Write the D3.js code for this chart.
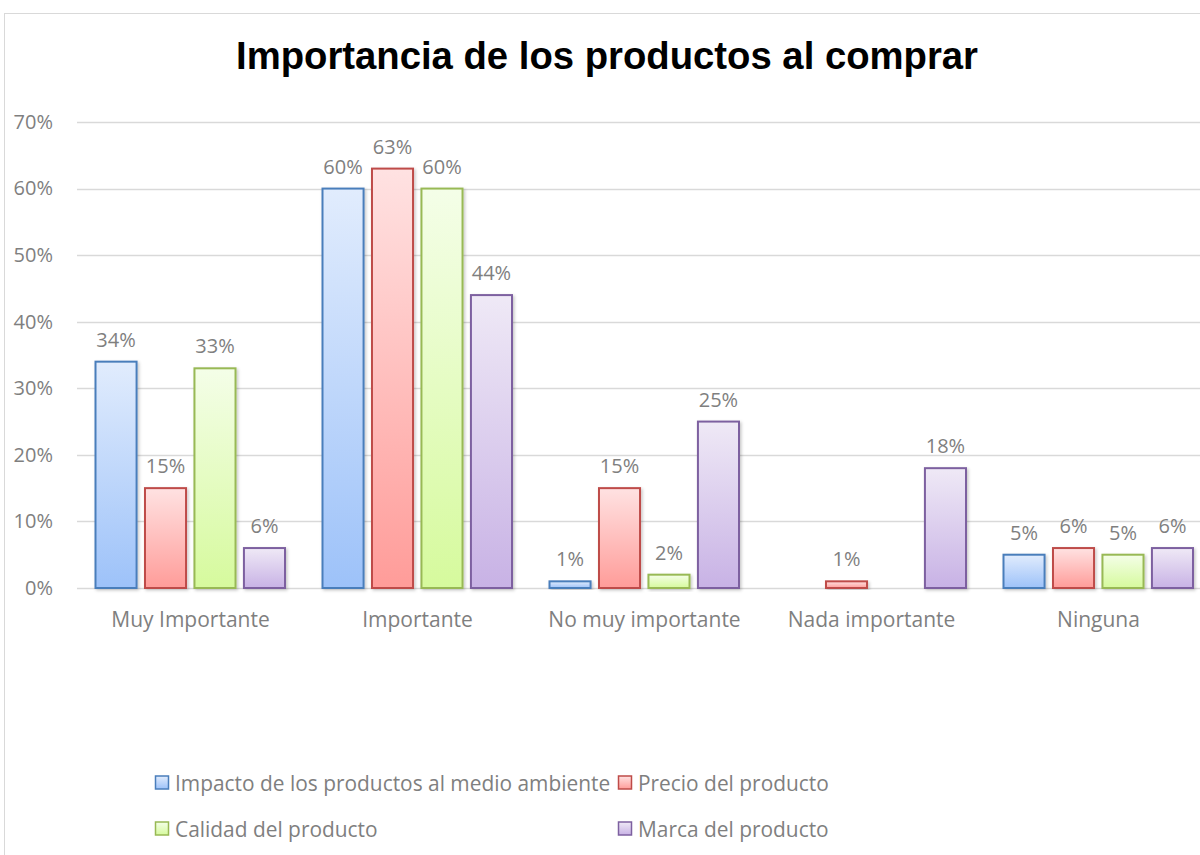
<!DOCTYPE html>
<html>
<head>
<meta charset="utf-8">
<script src="https://cdn.jsdelivr.net/npm/d3@7"></script>
<style>
  body { margin: 0; background: #fff; }
  svg text { font-family: "Open Sans", "Noto Sans", sans-serif; }
</style>
</head>
<body>
<div id="chart"></div>
<script>
// chart data
var categories = ["Muy Importante", "Importante", "No muy importante", "Nada importante", "Ninguna"];
var seriesNames = ["Impacto de los productos al medio ambiente", "Precio del producto", "Calidad del producto", "Marca del producto"];
var impacto = [34, 60, 1, 0, 5];
var precio = [15, 63, 15, 1, 6];
var calidad = [33, 60, 2, 0, 5];
var marca = [6, 44, 25, 18, 6];
var yTicks = [0, 10, 20, 30, 40, 50, 60, 70];

var seriesValues = [impacto, precio, calidad, marca];

// colours: gradient top, gradient bottom, border
var seriesColors = [
    { top: "#e1ecfd", bottom: "#9dc2f9", stroke: "#4a7ebb" },
    { top: "#ffe2e2", bottom: "#ff9c99", stroke: "#be4b48" },
    { top: "#f4fee8", bottom: "#d6fa9d", stroke: "#98b954" },
    { top: "#efe9f6", bottom: "#c8b2e5", stroke: "#7d60a0" }
];

var w = 1200, h = 855;

var svg = d3.select("#chart")
    .append("svg")
    .attr("width", w)
    .attr("height", h);

var defs = svg.append("defs");

seriesColors.forEach((c, i) => {
    var g = defs.append("linearGradient")
        .attr("id", "grad" + i)
        .attr("x1", 0).attr("y1", 0)
        .attr("x2", 0).attr("y2", 1);
    g.append("stop").attr("offset", "0%").attr("stop-color", c.top);
    g.append("stop").attr("offset", "100%").attr("stop-color", c.bottom);
});

defs.append("filter")
    .attr("id", "shadow")
    .attr("x", "-20%").attr("y", "-20%")
    .attr("width", "150%").attr("height", "150%")
    .append("feDropShadow")
    .attr("dx", 1.5).attr("dy", 1.5)
    .attr("stdDeviation", 1.5)
    .attr("flood-color", "#000")
    .attr("flood-opacity", 0.22);

// chart area border
svg.append("rect")
    .attr("x", 4.5)
    .attr("y", 13.5)
    .attr("width", w + 20)
    .attr("height", h + 20)
    .attr("fill", "none")
    .attr("stroke", "#d9d9d9")
    .attr("stroke-width", 1);

// title
svg.append("text")
    .attr("x", 607)
    .attr("y", 69)
    .attr("text-anchor", "middle")
    .style("font-family", "'Liberation Sans', Arial, sans-serif")
    .style("font-weight", "bold")
    .style("font-size", "38px")
    .attr("textLength", 742)
    .attr("lengthAdjust", "spacingAndGlyphs")
    .style("fill", "#000")
    .text("Importancia de los productos al comprar");

// --- Scales ---
var x0 = d3.scaleBand()
    .domain(categories)
    .range([77, 1212]);

var x1 = d3.scaleBand()
    .domain(d3.range(seriesNames.length))
    .range([18.5, 208])
    .paddingInner(0.17);

var y = d3.scaleLinear()
    .domain([0, 70])
    .range([588, 122]);

// gridlines
svg.append("g")
    .selectAll("line")
    .data(yTicks)
    .enter().append("line")
    .attr("x1", 77)
    .attr("x2", w)
    .attr("y1", d => Math.round(y(d)) + 0.5)
    .attr("y2", d => Math.round(y(d)) + 0.5)
    .attr("stroke", "#d9d9d9")
    .attr("stroke-width", 1.3);

// y axis labels
var yAxis = svg.append("g")
    .attr("transform", "translate(53,0)")
    .call(d3.axisLeft(y).tickValues(yTicks).tickSize(0).tickPadding(0).tickFormat(d => d + "%"));
yAxis.select(".domain").remove();
yAxis.selectAll("text")
    .style("font-family", "'Open Sans', 'Noto Sans', sans-serif")
    .style("font-size", "20px")
    .style("fill", "#7f7f7f");

// category labels
var xAxis = svg.append("g")
    .attr("transform", "translate(0,612)")
    .call(d3.axisBottom(x0).tickSize(0).tickPadding(0));
xAxis.select(".domain").remove();
xAxis.selectAll("text")
    .style("font-family", "'Open Sans', 'Noto Sans', sans-serif")
    .style("font-size", "21px")
    .style("fill", "#7f7f7f");

// --- Bars ---
var barData = [];
categories.forEach((cat, ci) => {
    seriesValues.forEach((vals, si) => {
        barData.push({ cat: cat, s: si, v: vals[ci] });
    });
});

var bars = svg.append("g");

bars.selectAll("rect")
    .data(barData.filter(d => d.v > 0))
    .enter().append("rect")
    .attr("x", d => x0(d.cat) + x1(d.s))
    .attr("y", d => y(d.v))
    .attr("width", x1.bandwidth())
    .attr("height", d => y(0) - y(d.v))
    .attr("fill", d => "url(#grad" + d.s + ")")
    .attr("stroke", d => seriesColors[d.s].stroke)
    .attr("stroke-width", 2)
    .attr("filter", "url(#shadow)");

// data labels
svg.append("g")
    .selectAll("text")
    .data(barData.filter(d => d.v > 0))
    .enter().append("text")
    .attr("x", d => x0(d.cat) + x1(d.s) + x1.bandwidth() / 2)
    .attr("y", d => y(d.v) - 15)
    .attr("text-anchor", "middle")
    .style("font-size", "20px")
    .style("fill", "#7f7f7f")
    .text(d => d.v + "%");

// --- Legend ---
var legendPos = [
    { x: 155.5, y: 783 },
    { x: 618.5, y: 783 },
    { x: 155.5, y: 829 },
    { x: 618.5, y: 829 }
];

var legendItem = svg.append("g")
    .selectAll("g")
    .data(seriesNames)
    .enter().append("g")
    .attr("transform", (d, i) => `translate(${legendPos[i].x},${legendPos[i].y})`);

legendItem.append("rect")
    .attr("x", 0)
    .attr("y", -7)
    .attr("width", 13)
    .attr("height", 13)
    .attr("fill", (d, i) => "url(#grad" + i + ")")
    .attr("stroke", (d, i) => seriesColors[i].stroke)
    .attr("stroke-width", 1.5);

legendItem.append("text")
    .attr("x", 19.5)
    .attr("y", 7.5)
    .style("font-size", "20.9px")
    .style("fill", "#7f7f7f")
    .text(d => d);
</script>
</body>
</html>
